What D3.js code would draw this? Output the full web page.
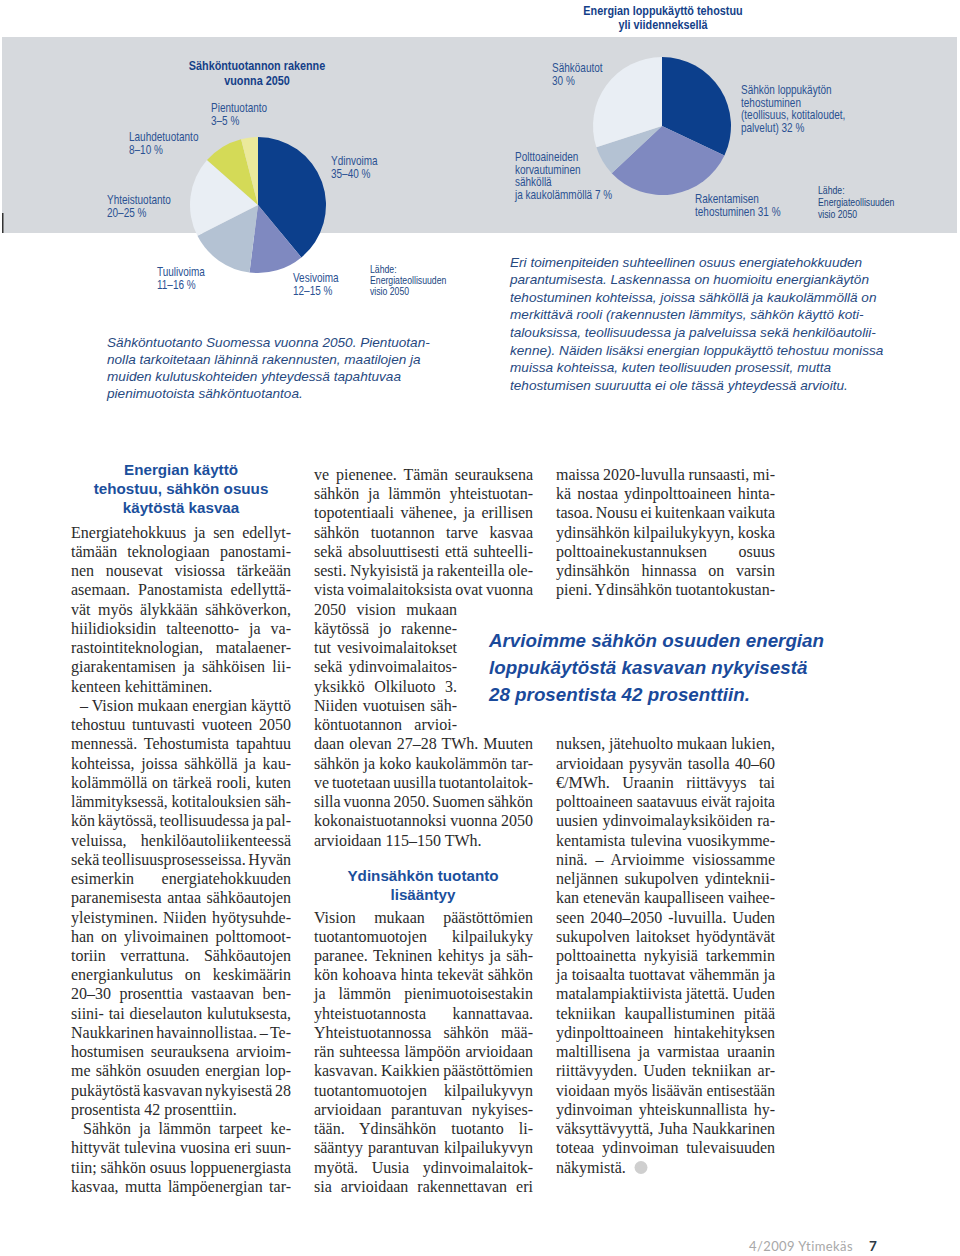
<!DOCTYPE html>
<html><head><meta charset="utf-8">
<script src="https://cdn.jsdelivr.net/npm/d3@7"></script>
<style>body{margin:0;background:#fff} svg{display:block}</style>
</head><body>
<svg id="c" width="960" height="1256"></svg>
<script>
// ---------------- DATA ----------------
const prodCategories = ["Ydinvoima","Vesivoima","Tuulivoima","Yhteistuotanto","Lauhdetuotanto","Pientuotanto"];
const prodValues = [39, 13, 15.5, 19, 9.5, 4];
const prodLabels = [["Ydinvoima","35–40 %"],["Vesivoima","12–15 %"],["Tuulivoima","11–16 %"],["Yhteistuotanto","20–25 %"],["Lauhdetuotanto","8–10 %"],["Pientuotanto","3–5 %"]];
const prodTitle = ["Sähköntuotannon rakenne","vuonna 2050"];

const effCategories = ["Sähkön loppukäytön tehostuminen","Rakentamisen tehostuminen","Polttoaineiden korvautuminen","Sähköautot"];
const effValues = [32, 31, 7, 30];
const effLabels = [["Sähkön loppukäytön","tehostuminen","(teollisuus, kotitaloudet,","palvelut) 32 %"],["Rakentamisen","tehostuminen 31 %"],["Polttoaineiden","korvautuminen","sähköllä","ja kaukolämmöllä 7 %"],["Sähköautot","30 %"]];
const effTitle = ["Energian loppukäyttö tehostuu","yli viidenneksellä"];

const sourceLines = ["Lähde:","Energiateollisuuden","visio 2050"];

const captionLeft = ["Sähköntuotanto Suomessa vuonna 2050. Pientuotan-","nolla tarkoitetaan lähinnä rakennusten, maatilojen ja","muiden kulutuskohteiden yhteydessä tapahtuvaa","pienimuotoista sähköntuotantoa."];
const captionRight = ["Eri toimenpiteiden suhteellinen osuus energiatehokkuuden","parantumisesta. Laskennassa on huomioitu energiankäytön","tehostuminen kohteissa, joissa sähköllä ja kaukolämmöllä on","merkittävä rooli (rakennusten lämmitys, sähkön käyttö koti-","talouksissa, teollisuudessa ja palveluissa sekä henkilöautolii-","kenne). Näiden lisäksi energian loppukäyttö tehostuu monissa","muissa kohteissa, kuten teollisuuden prosessit, mutta","tehostumisen suuruutta ei ole tässä yhteydessä arvioitu."];

const heading1 = ["Energian käyttö","tehostuu, sähkön osuus","käytöstä kasvaa"];
const heading2 = ["Ydinsähkön tuotanto","lisääntyy"];
const quoteLines = ["Arvioimme sähkön osuuden energian","loppukäytöstä kasvavan nykyisestä","28 prosentista 42 prosenttiin."];

const col1p1 = ["Energiatehokkuus ja sen edellyt-","tämään teknologiaan panostami-","nen nousevat visiossa tärkeään","asemaan. Panostamista edellyttä-","vät myös älykkään sähköverkon,","hiilidioksidin talteenotto- ja va-","rastointiteknologian, matalaener-","giarakentamisen ja sähköisen lii-","kenteen kehittäminen."];
const col1p2 = ["– Vision mukaan energian käyttö","tehostuu tuntuvasti vuoteen 2050","mennessä. Tehostumista tapahtuu","kohteissa, joissa sähköllä ja kau-","kolämmöllä on tärkeä rooli, kuten","lämmityksessä, kotitalouksien säh-","kön käytössä, teollisuudessa ja pal-","veluissa, henkilöautoliikenteessä","sekä teollisuusprosesseissa. Hyvän","esimerkin energiatehokkuuden","paranemisesta antaa sähköautojen","yleistyminen. Niiden hyötysuhde-","han on ylivoimainen polttomoot-","toriin verrattuna. Sähköautojen","energiankulutus on keskimäärin","20–30 prosenttia vastaavan ben-","siini- tai dieselauton kulutuksesta,","Naukkarinen havainnollistaa. – Te-","hostumisen seurauksena arvioim-","me sähkön osuuden energian lop-","pukäytöstä kasvavan nykyisestä 28","prosentista 42 prosenttiin."];
const col1p3 = ["Sähkön ja lämmön tarpeet ke-","hittyvät tulevina vuosina eri suun-","tiin; sähkön osuus loppuenergiasta","kasvaa, mutta lämpöenergian tar-"];
const col2a = ["ve pienenee. Tämän seurauksena","sähkön ja lämmön yhteistuotan-","topotentiaali vähenee, ja erillisen","sähkön tuotannon tarve kasvaa","sekä absoluuttisesti että suhteelli-","sesti. Nykyisistä ja rakenteilla ole-","vista voimalaitoksista ovat vuonna"];
const col2b = ["2050 vision mukaan","käytössä jo rakenne-","tut vesivoimalaitokset","sekä ydinvoimalaitos-","yksikkö Olkiluoto 3.","Niiden vuotuisen säh-","köntuotannon arvioi-"];
const col2c = ["daan olevan 27–28 TWh. Muuten","sähkön ja koko kaukolämmön tar-","ve tuotetaan uusilla tuotantolaitok-","silla vuonna 2050. Suomen sähkön","kokonaistuotannoksi vuonna 2050","arvioidaan 115–150 TWh."];
const col2d = ["Vision mukaan päästöttömien","tuotantomuotojen kilpailukyky","paranee. Tekninen kehitys ja säh-","kön kohoava hinta tekevät sähkön","ja lämmön pienimuotoisestakin","yhteistuotannosta kannattavaa.","Yhteistuotannossa sähkön mää-","rän suhteessa lämpöön arvioidaan","kasvavan. Kaikkien päästöttömien","tuotantomuotojen kilpailukyvyn","arvioidaan parantuvan nykyises-","tään. Ydinsähkön tuotanto li-","sääntyy parantuvan kilpailukyvyn","myötä. Uusia ydinvoimalaitok-","sia arvioidaan rakennettavan eri"];
const col3a = ["maissa 2020-luvulla runsaasti, mi-","kä nostaa ydinpolttoaineen hinta-","tasoa. Nousu ei kuitenkaan vaikuta","ydinsähkön kilpailukykyyn, koska","polttoainekustannuksen osuus","ydinsähkön hinnassa on varsin","pieni. Ydinsähkön tuotantokustan-"];
const col3b = ["nuksen, jätehuolto mukaan lukien,","arvioidaan pysyvän tasolla 40–60","€/MWh. Uraanin riittävyys tai","polttoaineen saatavuus eivät rajoita","uusien ydinvoimalayksiköiden ra-","kentamista tulevina vuosikymme-","ninä. – Arvioimme visiossamme","neljännen sukupolven ydinteknii-","kan etenevän kaupalliseen vaihee-","seen 2040–2050 -luvuilla. Uuden","sukupolven laitokset hyödyntävät","polttoainetta nykyisiä tarkemmin","ja toisaalta tuottavat vähemmän ja","matalampiaktiivista jätettä. Uuden","tekniikan kaupallistuminen pitää","ydinpolttoaineen hintakehityksen","maltillisena ja varmistaa uraanin","riittävyyden. Uuden tekniikan ar-","vioidaan myös lisäävän entisestään","ydinvoiman yhteiskunnallista hy-","väksyttävyyttä, Juha Naukkarinen","toteaa ydinvoiman tulevaisuuden","näkymistä."];
const footerText = "4/2009 Ytimekäs";
const pageNumber = "7";

// ---------------- STYLE / LAYOUT ----------------
const sliceColors = ["#0c3f8c","#7f89c0","#b4c2d3","#e9eef4","#d4da57","#ebe99b"];
const effColors = ["#0c3f8c","#7f89c0","#b4c2d3","#e9eef4"];
const navy = "#143f88", labelBlue = "#2a5192", capBlue = "#27497f", headBlue = "#1b4f9c", bodyCol = "#2b2b2b";
const NARROW = 0.82;

const svg = d3.select("#c");
svg.append("rect").attr("x",2).attr("y",37).attr("width",955).attr("height",196).attr("fill","#d6d9dd");
svg.append("rect").attr("x",2).attr("y",213).attr("width",1.5).attr("height",20).attr("fill","#333");

function ntext(x, y, str, size, weight, fill, anchor){
  return svg.append("text").attr("transform",`translate(${x},${y}) scale(${NARROW},1)`)
    .attr("text-anchor", anchor||"start")
    .style("font-family","'Liberation Sans', Arial, sans-serif")
    .style("font-size", size+"px").style("font-weight", weight).attr("fill", fill).text(str);
}

// ---- pie 1 ----
const pie = d3.pie().sort(null).value(d=>d);
const arc1 = d3.arc().innerRadius(0).outerRadius(68);
const g1 = svg.append("g").attr("transform","translate(258,205)");
g1.selectAll("path").data(pie(prodValues)).join("path").attr("d",arc1).attr("fill",(d,i)=>sliceColors[i]);

prodTitle.forEach((t,i)=>ntext(257, 70+i*15, t, 13.2, "bold", navy, "middle"));
const prodLabelPos = [[331,165],[293,282],[157,276],[107,204],[129,141],[211,112]];
prodLabels.forEach((lines,i)=>lines.forEach((t,k)=>ntext(prodLabelPos[i][0], prodLabelPos[i][1]+k*12.6, t, 12.2, "normal", labelBlue)));
sourceLines.forEach((t,k)=>ntext(370, 273+k*11.2, t, 10.6, "normal", "#20467f"));

// ---- pie 2 ----
const arc2 = d3.arc().innerRadius(0).outerRadius(69);
const g2 = svg.append("g").attr("transform","translate(662,126)");
g2.selectAll("path").data(pie(effValues)).join("path").attr("d",arc2).attr("fill",(d,i)=>effColors[i]);

effTitle.forEach((t,i)=>ntext(663, 14.5+i*14.5, t, 13.2, "bold", navy, "middle"));
const effLabelPos = [[741,94],[695,203],[515,161],[552,72]];
effLabels.forEach((lines,i)=>lines.forEach((t,k)=>ntext(effLabelPos[i][0], effLabelPos[i][1]+k*12.7, t, 12.2, "normal", labelBlue)));
sourceLines.forEach((t,k)=>ntext(818, 194+k*11.8, t, 10.6, "normal", "#20467f"));

// ---- captions ----
function caption(lines, x, y0, step){
  lines.forEach((t,k)=>svg.append("text").attr("x",x).attr("y",y0+k*step)
    .style("font-family","'Liberation Sans', Arial, sans-serif").style("font-style","italic")
    .style("font-size","13.6px").attr("fill",capBlue).text(t));
}
caption(captionLeft, 107, 346.5, 17.2);
caption(captionRight, 510, 266.5, 17.6);

// ---- body text ----
const lineY = d3.scaleLinear().domain([0,1]).range([480, 499.24]);
function block(lines, x, w, start, endsPara, indent){
  lines.forEach((s,k)=>{
    const ind = (k===0 && indent) ? indent : 0;
    const t = svg.append("text").attr("x", x+ind).attr("y", lineY(start+k))
      .style("font-family","'Liberation Serif', 'Times New Roman', serif")
      .style("font-size","16px").attr("fill",bodyCol).text(s);
    const last = endsPara && k===lines.length-1;
    if(!last){
      const W = w - ind;
      const len = t.node().getComputedTextLength();
      const n = (s.match(/ /g)||[]).length;
      if(n>0){
        let ws = (W-len)/n;
        if(ws < -1.5){ t.attr("textLength", W).attr("lengthAdjust","spacingAndGlyphs"); }
        else t.style("word-spacing", ws+"px");
      } else t.attr("textLength", W);
    }
  });
}
function heading(lines, cx, y0){
  lines.forEach((t,k)=>svg.append("text").attr("x",cx).attr("y",y0+k*19.2).attr("text-anchor","middle")
    .style("font-family","'Liberation Sans', Arial, sans-serif").style("font-weight","bold")
    .style("font-size","15.2px").attr("fill",headBlue).text(t));
}
heading(heading1, 181, 474.5);
block(col1p1, 71, 220, 3, true, 0);
block(col1p2, 71, 220, 12, true, 9);
block(col1p3, 71, 220, 34, false, 12);

block(col2a, 314, 219, 0, false, 0);
block(col2b, 314, 143, 7, false, 0);
block(col2c, 314, 219, 14, true, 0);
heading(heading2, 423, 881);
block(col2d, 314, 219, 23, false, 0);

block(col3a, 556, 219, 0, false, 0);
block(col3b, 556, 219, 14, true, 0);
svg.append("circle").attr("cx",641).attr("cy",1167.5).attr("r",6.5).attr("fill","#cfcfcf");

quoteLines.forEach((t,k)=>svg.append("text").attr("x",489).attr("y",647+k*26.8)
  .style("font-family","'Liberation Sans', Arial, sans-serif").style("font-weight","bold").style("font-style","italic")
  .style("font-size","18.8px").attr("fill","#1a4a9b").text(t));

// ---- footer ----
svg.append("text").attr("x",749).attr("y",1250.5).style("font-family","Lato, 'Open Sans', sans-serif")
  .style("font-size","13px").style("letter-spacing","0.4px").attr("fill","#a8a8a8").text(footerText);
svg.append("text").attr("x",869).attr("y",1250.5).style("font-family","Lato, 'Open Sans', sans-serif")
  .style("font-size","13.5px").style("font-weight","bold").attr("fill","#2d3846").text(pageNumber);
</script>
</body></html>
